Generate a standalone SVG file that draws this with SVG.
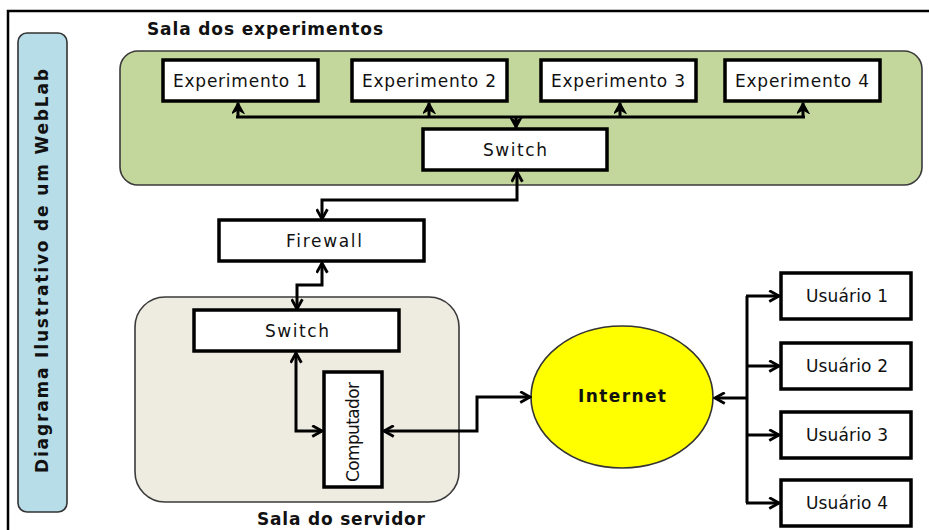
<svg xmlns="http://www.w3.org/2000/svg" width="929" height="530" viewBox="0 0 929 530">
  <style>
    .box { fill: #ffffff; stroke: #000000; stroke-width: 3.5; }
    .room { stroke: #3a3a3a; stroke-width: 1.6; }
    .lbl { font-family: "DejaVu Sans", "Liberation Sans", sans-serif; font-size: 17px; fill: #111111; text-anchor: middle; }
    .bold { font-weight: bold; }
    .wire { fill: none; stroke: #000000; stroke-width: 3; stroke-linejoin: miter; }
  </style>
  <defs>
    <marker id="open" viewBox="0 0 12 12" refX="10" refY="6" markerWidth="13" markerHeight="13" markerUnits="userSpaceOnUse" orient="auto-start-reverse">
      <path d="M1,1 L10,6 L1,11" fill="none" stroke="#000" stroke-width="2.6"/>
    </marker>
    <marker id="solid" viewBox="0 0 12 12" refX="10" refY="6" markerWidth="13" markerHeight="13" markerUnits="userSpaceOnUse" orient="auto-start-reverse">
      <path d="M1,1 L10,6 L1,11 L4,6 Z" fill="#000" stroke="#000" stroke-width="1.4"/>
    </marker>
  </defs>

  <rect width="929" height="530" fill="#ffffff"/>

  <!-- outer frame (top and left edges) -->
  <path d="M8,530 V11 H929" fill="none" stroke="#000" stroke-width="2.5"/>

  <!-- vertical title -->
  <g id="title">
    <rect x="18" y="33" width="49" height="479" rx="9" fill="#b7dde8" stroke="#333" stroke-width="1.6"/>
    <text class="lbl bold" transform="translate(48,271) rotate(-90)" textLength="404">Diagrama Ilustrativo de um WebLab</text>
  </g>

  <!-- experiments room -->
  <g id="sala-experimentos">
    <rect class="room" x="120" y="51" width="802" height="134" rx="18" fill="#c3d69b"/>
    <text class="lbl bold" x="265" y="35" textLength="236" font-size="16">Sala dos experimentos</text>
  </g>

  <g id="experimento-1">
    <rect class="box" x="163" y="60" width="155" height="41"/>
    <text class="lbl" x="240" y="87" textLength="134">Experimento 1</text>
  </g>
  <g id="experimento-2">
    <rect class="box" x="352" y="60" width="155" height="41"/>
    <text class="lbl" x="429" y="87" textLength="134">Experimento 2</text>
  </g>
  <g id="experimento-3">
    <rect class="box" x="541" y="60" width="155" height="41"/>
    <text class="lbl" x="618" y="87" textLength="134">Experimento 3</text>
  </g>
  <g id="experimento-4">
    <rect class="box" x="725" y="60" width="155" height="41"/>
    <text class="lbl" x="802" y="87" textLength="134">Experimento 4</text>
  </g>

  <g id="switch-experimentos">
    <rect class="box" x="423" y="129" width="184" height="41"/>
    <text class="lbl" x="515" y="156" textLength="64">Switch</text>
  </g>

  <g id="firewall">
    <rect class="box" x="219" y="220" width="205" height="41"/>
    <text class="lbl" x="324" y="247" textLength="76">Firewall</text>
  </g>

  <!-- server room -->
  <g id="sala-servidor">
    <rect class="room" x="135" y="297" width="324" height="205" rx="30" fill="#eeece1"/>
    <text class="lbl bold" x="341" y="525" textLength="168" font-size="16">Sala do servidor</text>
  </g>

  <g id="switch-servidor">
    <rect class="box" x="194" y="310" width="205" height="41"/>
    <text class="lbl" x="297" y="337" textLength="64">Switch</text>
  </g>

  <g id="computador">
    <rect class="box" x="324" y="372" width="58" height="115"/>
    <text class="lbl" transform="translate(359,432) rotate(-90)" textLength="100" font-size="16">Computador</text>
  </g>

  <g id="internet">
    <ellipse cx="622" cy="397" rx="91" ry="71" fill="#ffff00" stroke="#333" stroke-width="1.6"/>
    <text class="lbl bold" x="622" y="402" textLength="88" font-size="16">Internet</text>
  </g>

  <g id="usuario-1">
    <rect class="box" x="781" y="273" width="130" height="46"/>
    <text class="lbl" x="847" y="302" textLength="82" font-size="16">Usuário 1</text>
  </g>
  <g id="usuario-2">
    <rect class="box" x="781" y="343" width="130" height="46"/>
    <text class="lbl" x="847" y="372" textLength="82" font-size="16">Usuário 2</text>
  </g>
  <g id="usuario-3">
    <rect class="box" x="781" y="412" width="130" height="46"/>
    <text class="lbl" x="847" y="441" textLength="82" font-size="16">Usuário 3</text>
  </g>
  <g id="usuario-4">
    <rect class="box" x="781" y="480" width="130" height="46"/>
    <text class="lbl" x="847" y="509" textLength="82" font-size="16">Usuário 4</text>
  </g>

  <!-- connectors -->
  <g id="connectors">
    <!-- experiment bus -->
    <path class="wire" d="M236,117 H805"/>
    <path class="wire" d="M238,117 V103" marker-end="url(#solid)"/>
    <path class="wire" d="M429,117 V103" marker-end="url(#solid)"/>
    <path class="wire" d="M620,117 V103" marker-end="url(#solid)"/>
    <path class="wire" d="M803,117 V103" marker-end="url(#solid)"/>
    <path class="wire" d="M516,117 V128" marker-end="url(#solid)"/>

    <!-- switch to firewall -->
    <path class="wire" d="M517,172 V200 H322 V219" marker-start="url(#open)" marker-end="url(#open)"/>
    <!-- firewall to server switch -->
    <path class="wire" d="M322,263 V285 H297 V309" marker-start="url(#open)" marker-end="url(#open)"/>
    <!-- server switch to computer -->
    <path class="wire" d="M296,353 V431 H322" marker-start="url(#open)" marker-end="url(#open)"/>
    <!-- computer to internet -->
    <path class="wire" d="M384,431 H477 V397 H530" marker-start="url(#open)" marker-end="url(#open)"/>

    <!-- internet to users -->
    <path class="wire" d="M747,398 H715" marker-end="url(#open)"/>
    <path class="wire" d="M747,296 V503"/>
    <path class="wire" d="M746,296 H779" marker-end="url(#open)"/>
    <path class="wire" d="M746,366 H779" marker-end="url(#open)"/>
    <path class="wire" d="M746,435 H779" marker-end="url(#open)"/>
    <path class="wire" d="M746,503 H779" marker-end="url(#open)"/>
  </g>
</svg>
